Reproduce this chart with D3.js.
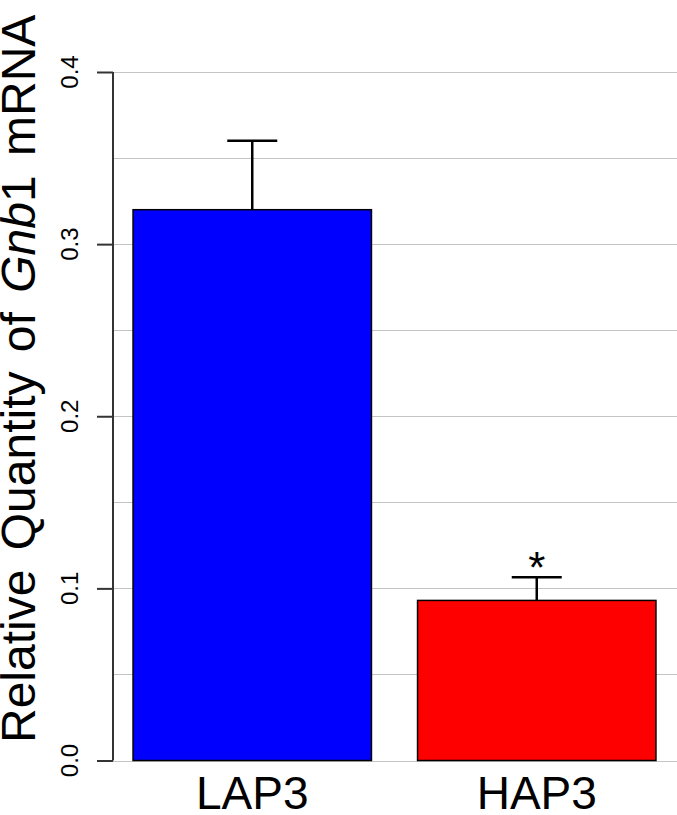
<!DOCTYPE html>
<html>
<head>
<meta charset="utf-8">
<script src="https://cdn.jsdelivr.net/npm/d3@7"></script>
<style>
  body { margin: 0; background: #fff; }
  svg { display: block; font-family: "Liberation Sans", Arial, sans-serif; }
</style>
</head>
<body>
<div id="chart"></div>
<script>
var groups = ["LAP3", "HAP3"];
var means = [0.32, 0.093];
var errors = [0.04, 0.0135];
var barColors = ["#0000ff", "#ff0000"];
var signif = ["", "*"];
var yTicks = [0, 0.1, 0.2, 0.3, 0.4];
var gridValues = [0, 0.05, 0.1, 0.15, 0.2, 0.25, 0.3, 0.35, 0.4];

var W = 677, H = 815;
var axisX = 113, plotRight = 677;

var svg = d3.select("#chart").append("svg")
    .attr("width", W)
    .attr("height", H);

var y = d3.scaleLinear()
    .domain([0, 0.4])
    .range([760.5, 72]);

// bars sit roughly in [133,371] and [417,656]
var x = d3.scaleBand()
    .domain(groups)
    .range([110, 679])
    .paddingInner(0.162)
    .paddingOuter(0.081);

// grid lines
svg.append("g")
    .attr("class", "grid")
  .selectAll("line")
    .data(gridValues)
  .enter().append("line")
    .attr("x1", axisX)
    .attr("x2", plotRight)
    .attr("y1", d => Math.round(y(d)) + 0.5)
    .attr("y2", d => Math.round(y(d)) + 0.5)
    .style("stroke", "#c4c4c4")
    .style("stroke-width", 1.2);

// bars
svg.append("g").selectAll("rect")
    .data(groups)
  .enter().append("rect")
    .attr("x", d => x(d))
    .attr("width", x.bandwidth())
    .attr("y", (d, i) => y(means[i]))
    .attr("height", (d, i) => y(0) - y(means[i]))
    .style("fill", (d, i) => barColors[i])
    .style("stroke", "#000")
    .style("stroke-width", 1.5);

// error bars
var capW = 50;
var eb = svg.append("g").selectAll("g")
    .data(groups)
  .enter().append("g");

eb.append("line")
    .attr("x1", d => x(d) + x.bandwidth() / 2)
    .attr("x2", d => x(d) + x.bandwidth() / 2)
    .attr("y1", (d, i) => y(means[i]))
    .attr("y2", (d, i) => y(means[i] + errors[i]))
    .style("stroke", "#000")
    .style("stroke-width", 2.5);

eb.append("line")
    .attr("x1", d => x(d) + x.bandwidth() / 2 - capW / 2)
    .attr("x2", d => x(d) + x.bandwidth() / 2 + capW / 2)
    .attr("y1", (d, i) => y(means[i] + errors[i]))
    .attr("y2", (d, i) => y(means[i] + errors[i]))
    .style("stroke", "#000")
    .style("stroke-width", 2.5);

eb.append("text")
    .attr("x", d => x(d) + x.bandwidth() / 2)
    .attr("y", (d, i) => y(means[i] + errors[i]) + 6)
    .style("text-anchor", "middle")
    .style("font-size", "44px")
    .text((d, i) => signif[i]);

// y axis (lines from d3.axisLeft, labels drawn rotated below)
var yAxis = d3.axisLeft(y)
    .tickValues(yTicks)
    .tickSize(16)
    .tickFormat("");

var yg = svg.append("g")
    .attr("transform", "translate(" + axisX + ",0)")
    .call(yAxis);

yg.select(".domain")
    .attr("d", "M0," + y(0.4) + "V" + y(0))
    .style("stroke", "#333")
    .style("stroke-width", 2);
yg.selectAll(".tick line")
    .style("stroke", "#333")
    .style("stroke-width", 2);
yg.selectAll(".tick text").remove();

var fmt = d3.format(".1f");
svg.append("g").selectAll("text")
    .data(yTicks)
  .enter().append("text")
    .attr("transform", d => "translate(78," + y(d) + ") rotate(-90)")
    .style("text-anchor", "middle")
    .style("font-size", "24px")
    .style("fill", "#000")
    .text(d => fmt(d));

// category labels
svg.append("g").selectAll("text")
    .data(groups)
  .enter().append("text")
    .attr("x", d => x(d) + x.bandwidth() / 2)
    .attr("y", 809)
    .style("text-anchor", "middle")
    .style("font-size", "46px")
    .text(d => d);

// axis title
var title = svg.append("text")
    .attr("transform", "translate(35,743) rotate(-90)")
    .style("text-anchor", "start")
    .style("font-size", "48px")
    .style("word-spacing", "6px");
title.append("tspan").text("Relative Quantity of ");
title.append("tspan").style("font-style", "italic").text("Gnb");
title.append("tspan").text("1 mRNA");
</script>
</body>
</html>
